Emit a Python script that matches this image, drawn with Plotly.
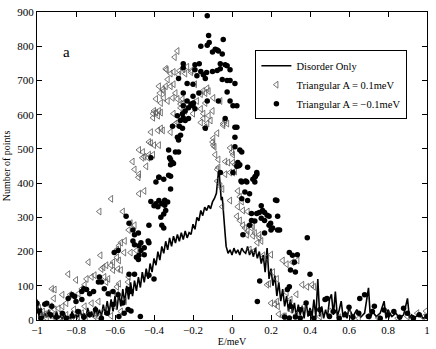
"""Density of states: disorder only vs triangular anisotropy."""

import plotly.graph_objects as go

FONT = "Liberation Serif"

# --- Disorder Only (line) ---
E_LINE = [
    -1.00, -0.99, -0.98, -0.97, -0.96, -0.95, -0.94, -0.93, -0.92, -0.91,
    -0.90, -0.89, -0.88, -0.87, -0.86, -0.85, -0.84, -0.83, -0.82, -0.81,
    -0.80, -0.79, -0.78, -0.77, -0.76, -0.75, -0.74, -0.73, -0.72, -0.71,
    -0.70, -0.69, -0.68, -0.67, -0.66, -0.65, -0.64, -0.63, -0.62, -0.61,
    -0.60, -0.59, -0.58, -0.57, -0.56, -0.55, -0.54, -0.53, -0.52, -0.51,
    -0.50, -0.49, -0.48, -0.47, -0.46, -0.45, -0.44, -0.43, -0.42, -0.41,
    -0.40, -0.39, -0.38, -0.37, -0.36, -0.35, -0.34, -0.33, -0.32, -0.31,
    -0.30, -0.29, -0.28, -0.27, -0.26, -0.25, -0.24, -0.23, -0.22, -0.21,
    -0.20, -0.19, -0.18, -0.17, -0.16, -0.15, -0.14, -0.13, -0.12, -0.11,
    -0.10, -0.09, -0.08, -0.075, -0.07, -0.065, -0.06, -0.055, -0.05, -0.045,
    -0.04, -0.035, -0.03, -0.025, -0.02, -0.01,
    0.00, 0.01, 0.02, 0.03, 0.04, 0.05, 0.06, 0.07, 0.08, 0.09,
    0.10, 0.11, 0.12, 0.13, 0.14, 0.15, 0.16, 0.17, 0.18, 0.19,
    0.20, 0.21, 0.22, 0.23, 0.24, 0.25, 0.26, 0.27, 0.28, 0.29,
    0.30, 0.31, 0.32, 0.33, 0.34, 0.35, 0.36, 0.37, 0.38, 0.39,
    0.40, 0.41, 0.42, 0.43, 0.44, 0.45, 0.46, 0.47, 0.48, 0.49,
    0.50, 0.51, 0.52, 0.53, 0.54, 0.55, 0.56, 0.57, 0.58, 0.59,
    0.60, 0.62, 0.64, 0.66, 0.68, 0.70, 0.71, 0.72, 0.74, 0.76,
    0.78, 0.79, 0.80, 0.82, 0.84, 0.86, 0.88, 0.90, 0.91, 0.92,
    0.94, 0.96, 0.98, 1.00,
]
N_LINE = [
    60, 10, 35, 5, 20, 8, 30, 5, 15, 3,
    25, 5, 12, 2, 20, 5, 10, 3, 25, 5,
    15, 8, 30, 10, 20, 5, 35, 10, 25, 8,
    40, 12, 30, 10, 45, 15, 55, 20, 60, 25,
    70, 30, 80, 40, 90, 50, 100, 60, 110, 70,
    115, 85, 125, 95, 140, 110, 150, 120, 165, 140,
    180, 160, 200, 175, 215, 195, 230, 205, 240, 215,
    245, 225, 250, 230, 255, 235, 260, 240, 255, 250,
    280, 265, 300, 290, 320, 305, 330, 320, 335, 325,
    345, 355, 370, 410, 430, 425, 380, 350, 360, 330,
    300, 250, 215, 200, 195, 205,
    190, 210, 195, 205, 190, 210, 200, 195, 215, 190,
    205, 185, 210, 180, 200, 165, 190, 140, 210, 120,
    150, 100, 130, 70, 110, 55, 90, 40, 70, 25,
    60, 20, 50, 10, 45, 15, 40, 5, 55, 10,
    35, 5, 60, 8, 120, 10, 40, 5, 30, 10,
    60, 75, 15, 83, 10, 30, 55, 8, 25, 5,
    35, 10, 30, 8, 20, 94, 5, 25, 10, 20,
    55, 5, 30, 10, 20, 5, 15, 63, 5, 15,
    8, 20, 5, 10,
]

# --- Triangular A = 0.1meV (open triangles) ---
E_TRI = [
    -0.28, -0.294, -0.335, -0.30, -0.27, -0.25, -0.23, -0.21, -0.34, -0.315, -0.274, -0.24,
    -0.33, -0.34, -0.315, -0.30, -0.375, -0.35, -0.355, -0.37, -0.29, -0.19, -0.208,
    -0.39, -0.35, -0.33, -0.365, -0.305, -0.28, -0.264, -0.25,
    -0.40, -0.39, -0.375, -0.405, -0.365, -0.38, -0.405,
    -0.30, -0.28, -0.29, -0.264,
    -0.416, -0.365, -0.355, -0.315, -0.38,
    -0.426, -0.416, -0.375, -0.40,
    -0.477, -0.457, -0.45, -0.43, -0.426, -0.46, -0.405,
    -0.51, -0.50, -0.44, -0.477, -0.48,
    -0.477, -0.45, -0.62, -0.68,
    -0.56, -0.52, -0.50, -0.53,
    -0.57, -0.55, -0.58, -0.59, -0.553, -0.52, -0.49,
    -0.675, -0.59, -0.58, -0.61, -0.62, -0.736,
    -0.66, -0.645, -0.67, -0.61, -0.585, -0.57,
    -0.84, -0.72, -0.705, -0.746, -0.655, -0.635, -0.645, -0.80,
    -0.58, -0.59, -0.53, -0.533,
    -0.924, -0.91, -0.914, -0.756, -0.77, -0.787, -0.83, -0.87, -0.63, -0.59,
    -0.85, -0.87, -0.89, -0.91, -0.94, -0.96,
    -0.81, -0.77, -0.736, -0.705, -0.756, -0.72, -0.685,
    -0.98, -0.95, -0.92, -0.88, -0.85, -0.82, -0.79, -0.75, -0.70, -0.68,
    -0.65, -0.62, -0.60, -0.57, -0.55, -0.99, -0.97, -0.93,
    -0.254, -0.23, -0.20, -0.18, -0.16, -0.15, -0.127, -0.12, -0.137, -0.096, -0.06, -0.137,
    -0.264, -0.24, -0.20, -0.16, -0.147, -0.12, -0.147, -0.16, -0.10, -0.11, -0.137,
    -0.045, -0.035, -0.127, -0.025, -0.045,
    -0.076, -0.096, -0.10, -0.096, -0.09,
    -0.01, 0.0, 0.005, -0.086, -0.07,
    -0.035, -0.02, 0.005, 0.015,
    -0.07, -0.076,
    -0.035, -0.01, 0.005, 0.015,
    -0.076, -0.06, -0.05,
    0.03, 0.04, 0.05, -0.01, -0.05,
    0.03, 0.056, 0.08,
    0.025, 0.04,
    0.056, 0.066, 0.08, 0.107, 0.117, 0.14, 0.076,
    0.10, 0.107, 0.14, 0.15, 0.13,
    0.09, 0.117, 0.16, 0.18, 0.20,
    0.26, 0.28, 0.31, 0.335,
    0.21, 0.23, 0.19, 0.18,
    0.36, 0.385, 0.41, 0.42,
    0.20, 0.22, 0.23, 0.235,
    0.24, 0.26, 0.27,
    0.30, 0.33, 0.37, 0.40, 0.45, 0.50, 0.55, 0.60, 0.65, 0.70,
    0.75, 0.80, 0.85, 0.90, 0.95, 0.995, 0.98, 0.30, 0.33, 0.28,
]
N_TRI = [
    786, 768, 731, 725, 728, 733, 740, 724, 734, 720, 717, 720,
    703, 683, 683, 689, 683, 669, 674, 663, 663, 689, 729,
    646, 649, 640, 634, 649, 646, 631, 634,
    611, 606, 611, 603, 606, 597, 591,
    603, 577, 574, 591,
    549, 560, 554, 549, 554,
    520, 517, 511, 511,
    497, 491, 477, 474, 483, 474, 483,
    463, 440, 449, 426, 417,
    369, 377, 354, 317,
    317, 283, 277, 263,
    226, 231, 217, 206, 197, 197, 203,
    189, 183, 174, 169, 160, 169,
    154, 160, 149, 146, 149, 146,
    134, 126, 131, 120, 126, 120, 111, 117,
    106, 97, 126, 111,
    91, 89, 63, 103, 91, 77, 74, 74, 77, 74,
    49, 40, 34, 31, 20, 17,
    31, 20, 17, 11, 40, 49, 54,
    10, 5, 12, 8, 15, 6, 10, 4, 20, 8,
    30, 12, 40, 25, 55, 35, 25, 40,
    646, 631, 634, 640, 660, 669, 677, 669, 663, 649, 640, 634,
    620, 611, 603, 617, 603, 597, 589, 577, 611, 583, 563,
    574, 583, 574, 574, 569,
    546, 531, 520, 511, 506,
    503, 491, 483, 483, 469,
    463, 460, 460, 454,
    446, 440,
    426, 431, 431, 434,
    406, 391, 383,
    377, 360, 346, 349, 331,
    331, 320, 317,
    303, 291,
    277, 269, 260, 274, 254, 249, 249,
    269, 246, 240, 231, 226,
    206, 203, 189, 183, 191,
    174, 163, 169, 174,
    140, 120, 106, 103,
    103, 97, 103, 97,
    49, 46, 54, 40,
    17, 11, 11,
    30, 15, 40, 20, 10, 25, 8, 18, 5, 12,
    6, 15, 5, 10, 20, 26, 8, 60, 75, 80,
]

# --- Triangular A = -0.1meV (filled circles) ---
E_DOT = [
    -0.127, -0.12, -0.117, -0.127, -0.045, -0.16,
    -0.10, -0.086, -0.076, -0.05, -0.07,
    -0.25, -0.25, -0.19, -0.168,
    -0.06, -0.06, -0.035, -0.025, -0.01,
    -0.19, -0.16, -0.13, -0.10, -0.076,
    -0.18, -0.147, -0.137, -0.274, -0.23,
    -0.05, -0.025, -0.01, 0.015,
    -0.20, -0.17, -0.20, -0.25, -0.025,
    -0.23, -0.21, -0.20, -0.223, -0.198, -0.25, -0.24, -0.19,
    -0.127, -0.07, -0.01, 0.005, 0.025,
    -0.28, -0.254, -0.25, -0.223, -0.24, -0.264,
    -0.305, -0.27, -0.254, -0.137, -0.035, 0.015,
    -0.28, -0.264, 0.015, 0.015, -0.274,
    -0.325, -0.29, -0.274, 0.04, 0.05,
    -0.315, -0.305, -0.315, -0.30, -0.32,
    0.03, 0.035, 0.08, 0.127, -0.416, -0.06, 0.005,
    0.025, 0.04, 0.025,
    0.127, 0.117, 0.117, 0.05, 0.076, 0.046, 0.07, 0.12, 0.107,
    0.066, 0.09, 0.08, 0.05, 0.23, 0.223,
    0.15, 0.10, 0.127, 0.157, 0.18, 0.19, 0.15, 0.234,
    0.10, 0.09, 0.19, 0.20, 0.234, 0.167, 0.056,
    0.14, 0.167, 0.117, 0.167, 0.198, 0.208, 0.244,
    0.386, 0.294, 0.31, 0.335, 0.32, 0.325, 0.30, 0.40, 0.142, 0.294, 0.284, 0.13,
    0.655, 0.68, 0.477, 0.487, 0.60, 0.73, 0.88, 0.78,
    0.27, 0.294, 0.325, 0.35,
    -0.39, -0.375, -0.35, -0.315, -0.315, -0.375, -0.325,
    -0.416, -0.39, -0.375, -0.40, -0.38,
    -0.36, -0.345, -0.34, -0.35, -0.365, -0.33, -0.345, -0.36, -0.35,
    -0.543, -0.528, -0.508, -0.426, -0.48, -0.50,
    -0.508, -0.50, -0.467, -0.477, -0.45, -0.43, -0.426,
    -0.604, -0.584, -0.467, -0.45, -0.49, -0.477, -0.48,
    -0.528, -0.50, -0.426, -0.40, -0.68, -0.685, -0.67,
    -0.76, -0.77, -0.746, -0.73, -0.71,
    -0.655, -0.635, -0.61, -0.584, -0.533, -0.518,
    -0.82, -0.807, -0.84, -0.80, -0.77,
    -0.95, -0.924, -0.533, -0.518, -0.553,
    -0.99, -0.96, -1.0,
    -0.98, -0.93, -0.90, -0.87, -0.85, -0.82, -0.79, -0.76, -0.73, -0.70,
    -0.67, -0.64, -0.61, -0.58, -0.56, -0.47,
    0.40, 0.42, 0.45, 0.50, 0.52, 0.55, 0.58, 0.62, 0.65, 0.70,
    0.72, 0.76, 0.80, 0.83, 0.86, 0.90, 0.93, 0.96, 1.00, 0.38,
    0.35, 0.30,
]
N_DOT = [
    889, 831, 811, 803, 820, 800,
    783, 791, 789, 777, 786,
    749, 737, 746, 749,
    749, 734, 746, 743, 731,
    731, 726, 723, 726, 729,
    714, 717, 706, 706, 691,
    703, 700, 700, 691,
    689, 663, 654, 663, 666,
    640, 631, 626, 620, 634, 626, 611, 617,
    640, 640, 640, 626, 626,
    597, 603, 591, 589, 583, 583,
    566, 566, 560, 560, 589, 563,
    534, 540, 534, 506, 526,
    497, 491, 491, 497, 491,
    469, 460, 454, 457, 474,
    460, 451, 446, 431, 474, 431, 431,
    563, 454, 449,
    426, 417, 403, 403, 403, 406, 406, 420, 411,
    374, 369, 349, 354, 349, 351,
    334, 311, 311, 320, 306, 303, 297, 303,
    291, 277, 277, 263, 263, 254, 249,
    314, 314, 289, 291, 283, 269, 263,
    240, 197, 189, 191, 169, 140, 146, 134, 114, 97, 89, 54,
    63, 74, 60, 63, 37, 40, 34, 29,
    9, 6, 9, 6,
    403, 417, 411, 420, 383, 417, 423,
    346, 340, 349, 334, 331,
    340, 335, 320, 310, 300, 345, 350, 277, 269,
    303, 283, 263, 277, 254, 249,
    231, 220, 226, 217, 211, 231, 226,
    197, 203, 203, 191, 183, 189, 177,
    134, 134, 131, 120, 126, 111, 111,
    91, 83, 89, 77, 83,
    91, 77, 83, 74, 89, 83,
    74, 69, 63, 54, 60,
    49, 40, 31, 26, 20,
    26, 46, 49,
    5, 15, 8, 20, 5, 12, 25, 8, 15, 30,
    5, 20, 45, 10, 50, 10,
    20, 5, 30, 10, 25, 5, 15, 8, 20, 10,
    25, 5, 15, 25, 8, 20, 5, 15, 10, 50,
    30, 40,
]

X_TICKS = [-1, -0.8, -0.6, -0.4, -0.2, 0, 0.2, 0.4, 0.6, 0.8, 1]
X_TICK_TEXT = ["\u22121", "\u22120.8", "\u22120.6", "\u22120.4", "\u22120.2",
               "0", "0.2", "0.4", "0.6", "0.8", "1"]
Y_TICKS = [0, 100, 200, 300, 400, 500, 600, 700, 800, 900]

fig = go.Figure()
fig.add_trace(go.Scatter(
    x=E_LINE, y=N_LINE, mode="lines", name="Disorder Only",
    line=dict(color="black", width=1.6),
))
fig.add_trace(go.Scatter(
    x=E_TRI, y=N_TRI, mode="markers", name="Triangular A = 0.1meV",
    marker=dict(symbol="triangle-left-open", size=6, color="#555555",
                line=dict(width=0.8)),
))
fig.add_trace(go.Scatter(
    x=E_DOT, y=N_DOT, mode="markers", name="Triangular A = \u22120.1meV",
    marker=dict(symbol="circle", size=5.5, color="black"),
))

axis_common = dict(
    showline=True, linecolor="black", linewidth=1, mirror="ticks",
    ticks="inside", ticklen=5, tickcolor="black", showgrid=False,
    zeroline=False, tickfont=dict(family=FONT, size=11, color="black"),
)
fig.update_xaxes(
    range=[-1, 1], tickvals=X_TICKS, ticktext=X_TICK_TEXT,
    ticklabeloverflow="allow",
    title=dict(text="E/meV", font=dict(family=FONT, size=10, color="black"),
               standoff=0),
    **axis_common,
)
fig.update_yaxes(
    range=[0, 900], tickvals=Y_TICKS,
    title=dict(text="Number of points",
               font=dict(family=FONT, size=10, color="black"), standoff=4),
    **axis_common,
)

fig.add_annotation(
    x=-0.85, y=783, text="a", showarrow=False,
    font=dict(family=FONT, size=15, color="black"),
)

fig.update_layout(
    width=436, height=349,
    margin=dict(l=35, r=6, t=9, b=25),
    plot_bgcolor="white", paper_bgcolor="white",
    font=dict(family=FONT, color="black"),
    legend=dict(
        x=0.56, y=0.876, xanchor="left", yanchor="top",
        bordercolor="black", borderwidth=1, bgcolor="white",
        font=dict(family=FONT, size=10.5, color="black"),
        itemwidth=30, tracegroupgap=0,
    ),
)

# the page body has a default 8px margin; drop it so the figure sits at 0,0
fig.write_html(
    "out.html",
    config={"displayModeBar": False},
    post_script="document.body.style.margin='0';",
)
